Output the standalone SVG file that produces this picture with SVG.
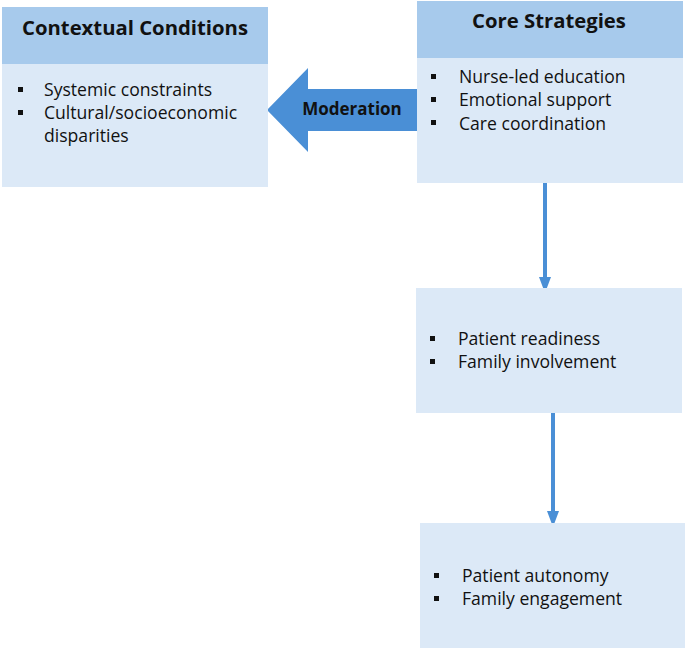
<svg xmlns="http://www.w3.org/2000/svg" width="685" height="648" viewBox="0 0 685 648">
<style>
.hdr{fill:#A7CAEC}
.body{fill:#DCE9F7}
.t{font-family:"Open Sans","Liberation Sans",sans-serif;font-size:17.6px;fill:#111}
.h{font-family:"Open Sans","Liberation Sans",sans-serif;font-size:20.3px;font-weight:bold;fill:#111;text-anchor:middle}
.m{font-family:"Open Sans","Liberation Sans",sans-serif;font-size:17px;font-weight:bold;fill:#111;text-anchor:middle}
.b{fill:#111}
.conn{stroke:#4A8FD6;stroke-width:4;fill:none}
</style>
<defs>
<marker id="ah" markerWidth="4" markerHeight="3" refX="2" refY="1.5" orient="auto" markerUnits="strokeWidth">
<path d="M0,0 L4,1.5 L0,3 Z" fill="#4A8FD6"/>
</marker>
</defs>
<rect width="685" height="648" fill="#fff"/>
<g id="connectors">
<path d="M417,89 L308,89 L308,68 L267,110 L308,152 L308,131 L417,131 Z" fill="#4A8FD6"/>
<line class="conn" x1="545" y1="183" x2="545" y2="285" marker-end="url(#ah)"/>
<line class="conn" x1="553" y1="413" x2="553" y2="519" marker-end="url(#ah)"/>
</g>
<g id="contextual">
<rect class="hdr" x="2" y="7" width="266" height="57"/>
<rect class="body" x="2" y="64" width="266" height="123"/>
<text class="h" x="135" y="35">Contextual Conditions</text>
<rect class="b" x="18" y="87" width="5" height="5"/>
<rect class="b" x="18" y="110" width="5" height="5"/>
<text class="t" x="44" y="96">Systemic constraints</text>
<text class="t" x="44" y="119">Cultural/socioeconomic</text>
<text class="t" x="44" y="142">disparities</text>
</g>
<g id="moderation">
<text class="m" x="352" y="115">Moderation</text>
</g>
<g id="core">
<rect class="hdr" x="417" y="1" width="266" height="57"/>
<rect class="body" x="417" y="58" width="266" height="125"/>
<text class="h" x="549" y="28">Core Strategies</text>
<rect class="b" x="431" y="74" width="5" height="5"/>
<rect class="b" x="431" y="97" width="5" height="5"/>
<rect class="b" x="431" y="120" width="5" height="5"/>
<text class="t" x="459" y="83">Nurse-led education</text>
<text class="t" x="459" y="106">Emotional support</text>
<text class="t" x="459" y="130">Care coordination</text>
</g>
<g id="readiness">
<rect class="body" x="416" y="288" width="266" height="125"/>
<rect class="b" x="430" y="336" width="5" height="5"/>
<rect class="b" x="430" y="359" width="5" height="5"/>
<text class="t" x="458" y="345">Patient readiness</text>
<text class="t" x="458" y="368">Family involvement</text>
</g>
<g id="autonomy">
<rect class="body" x="420" y="523" width="265" height="125"/>
<rect class="b" x="434" y="573" width="5" height="5"/>
<rect class="b" x="434" y="596" width="5" height="5"/>
<text class="t" x="462" y="582">Patient autonomy</text>
<text class="t" x="462" y="605">Family engagement</text>
</g>
</svg>
